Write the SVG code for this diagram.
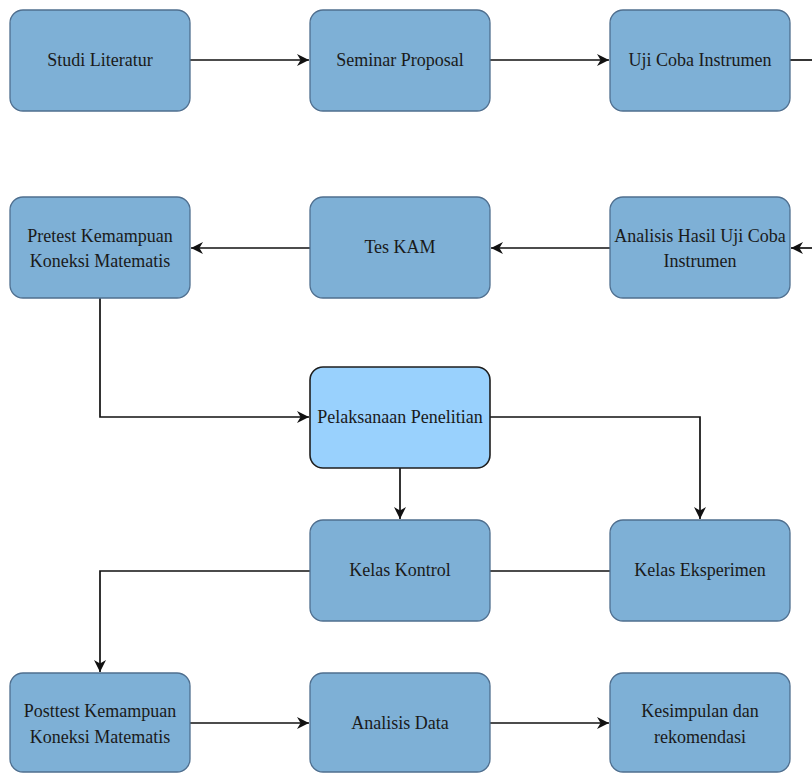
<svg xmlns="http://www.w3.org/2000/svg" width="812" height="773" viewBox="0 0 812 773">
<style>
.box{fill:#7eb0d6;stroke:#4f6f8f;stroke-width:1.3}
.hi{fill:#99d1fd;stroke:#1e1e1e;stroke-width:1.6}
.t{font-family:"Liberation Serif",serif;font-size:18px;fill:#1a1a1a;text-anchor:middle;dominant-baseline:central}
.c{fill:none;stroke:#111;stroke-width:1.7}
</style>
<defs>
<marker id="ah" viewBox="0 0 10 10" refX="10" refY="5" markerWidth="12" markerHeight="12" markerUnits="userSpaceOnUse" orient="auto">
<path d="M0,0 L10,5 L0,10 L3,5 Z" fill="#111"/>
</marker>
</defs>
<rect width="812" height="773" fill="#fff"/>
<g id="connectors">
<path class="c" d="M190,60 H309" marker-end="url(#ah)"/>
<path class="c" d="M490,60 H609" marker-end="url(#ah)"/>
<path class="c" d="M790,60 H812"/>
<path class="c" d="M812,248 H791" marker-end="url(#ah)"/>
<path class="c" d="M610,248 H491" marker-end="url(#ah)"/>
<path class="c" d="M310,248 H191" marker-end="url(#ah)"/>
<path class="c" d="M100,298 V417 H309" marker-end="url(#ah)"/>
<path class="c" d="M400,468 V519" marker-end="url(#ah)"/>
<path class="c" d="M490,417 H700 V519" marker-end="url(#ah)"/>
<path class="c" d="M610,571 H490"/>
<path class="c" d="M310,571 H100 V672" marker-end="url(#ah)"/>
<path class="c" d="M190,723 H309" marker-end="url(#ah)"/>
<path class="c" d="M490,723 H609" marker-end="url(#ah)"/>
</g>
<g id="n1"><rect class="box" x="10" y="10" width="180" height="101" rx="13"/><text class="t" x="100" y="60">Studi Literatur</text></g>
<g id="n2"><rect class="box" x="310" y="10" width="180" height="101" rx="13"/><text class="t" x="400" y="60">Seminar Proposal</text></g>
<g id="n3"><rect class="box" x="610" y="10" width="180" height="101" rx="13"/><text class="t" x="700" y="60">Uji Coba Instrumen</text></g>
<g id="n4"><rect class="box" x="610" y="197" width="180" height="101" rx="13"/><text class="t" x="700" y="236">Analisis Hasil Uji Coba</text><text class="t" x="700" y="261">Instrumen</text></g>
<g id="n5"><rect class="box" x="310" y="197" width="180" height="101" rx="13"/><text class="t" x="400" y="247">Tes KAM</text></g>
<g id="n6"><rect class="box" x="10" y="197" width="180" height="101" rx="13"/><text class="t" x="100" y="236">Pretest Kemampuan</text><text class="t" x="100" y="261">Koneksi Matematis</text></g>
<g id="n7"><rect class="hi" x="310" y="367" width="180" height="101" rx="13"/><text class="t" x="400" y="417">Pelaksanaan Penelitian</text></g>
<g id="n8"><rect class="box" x="310" y="520" width="180" height="101" rx="13"/><text class="t" x="400" y="570">Kelas Kontrol</text></g>
<g id="n9"><rect class="box" x="610" y="520" width="180" height="101" rx="13"/><text class="t" x="700" y="570">Kelas Eksperimen</text></g>
<g id="n10"><rect class="box" x="10" y="673" width="180" height="99" rx="13"/><text class="t" x="100" y="711">Posttest Kemampuan</text><text class="t" x="100" y="737">Koneksi Matematis</text></g>
<g id="n11"><rect class="box" x="310" y="673" width="180" height="99" rx="13"/><text class="t" x="400" y="723">Analisis Data</text></g>
<g id="n12"><rect class="box" x="610" y="673" width="180" height="99" rx="13"/><text class="t" x="700" y="711">Kesimpulan dan</text><text class="t" x="700" y="737">rekomendasi</text></g>
</svg>
